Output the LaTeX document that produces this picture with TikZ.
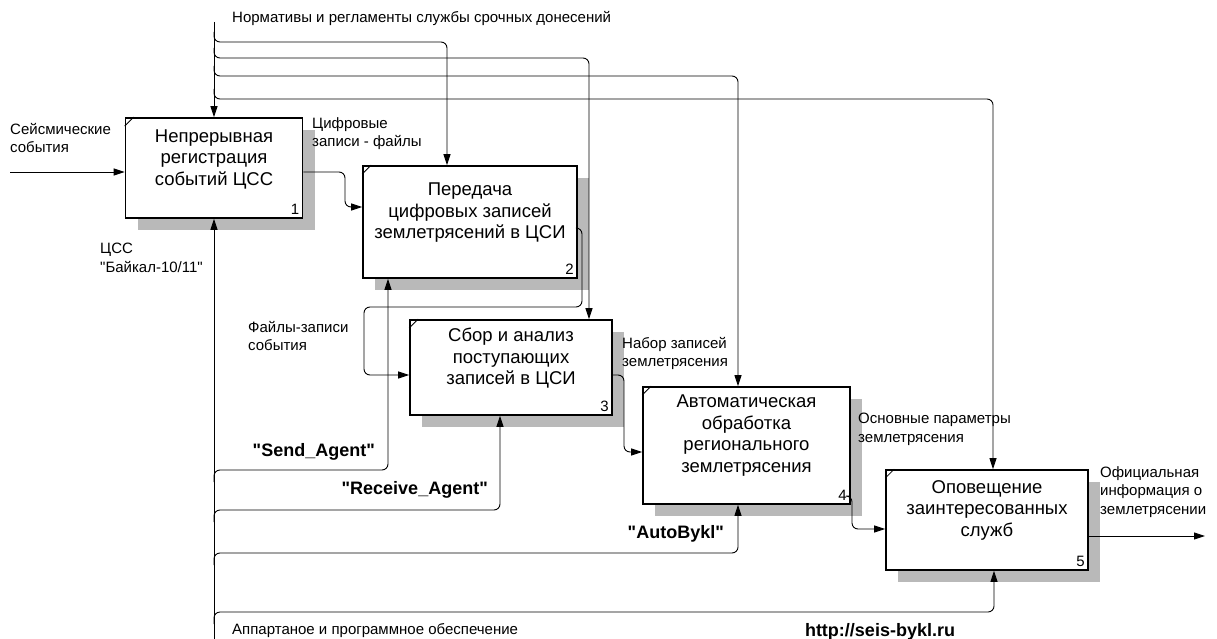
\documentclass[tikz,border=0pt]{standalone}
\usepackage{fontspec}
\setmainfont{Liberation Sans}[Ligatures=TeXOff]
\usetikzlibrary{arrows.meta,shadows}
\begin{document}
\begin{tikzpicture}[x=1pt,y=-1pt,
  act/.style={draw, line width=1.7pt, fill=white, inner sep=0pt,
    drop shadow={shadow xshift=12pt, shadow yshift=-12pt, fill=gray!55, opacity=1}},
  acttext/.style={font=\fontsize{18.5}{21.5}\selectfont, align=center, inner sep=0pt},
  actnum/.style={font=\fontsize{15}{17}\selectfont, inner sep=0pt, anchor=south east},
  flow/.style={line width=0.9pt, rounded corners=6pt, -{Triangle[length=11pt,width=7pt]}},
  lbl/.style={font=\fontsize{15}{18.5}\selectfont, align=left, inner sep=0pt, anchor=north west},
  blbl/.style={font=\bfseries\fontsize{18}{21}\selectfont, inner sep=0pt},
]
\useasboundingbox (0,0) rectangle (1217,639);

% activity boxes
\node[act, minimum width=177pt, minimum height=100pt] (b1) at (214,168) {};
\node[act, minimum width=214pt, minimum height=112pt] (b2) at (470,222) {};
\node[act, minimum width=202pt, minimum height=95pt] (b3) at (511,367.5) {};
\node[act, minimum width=207pt, minimum height=117pt] (b4) at (746.5,445.5) {};
\node[act, minimum width=202pt, minimum height=100pt] (b5) at (987,520) {};

\foreach \b/\n in {b1/1,b2/2,b3/3,b4/4,b5/5}{
  \draw[line width=0.8pt] ([yshift=-9pt]\b.north west) -- ([xshift=9pt]\b.north west);
  \node[actnum] (\b n) at ([xshift=-4pt,yshift=4pt]\b.south east) {\n};
}

\node[acttext] (t1) at ([yshift=9pt]b1.center) {Непрерывная\\регистрация\\событий ЦСС};
\node[acttext] (t2) at ([yshift=9pt]b2.center) {Передача\\цифровых записей\\землетрясений в ЦСИ};
\node[acttext] (t3) at ([yshift=9pt]b3.center) {Сбор и анализ\\поступающих\\записей в ЦСИ};
\node[acttext] (t4) at ([yshift=10pt]b4.center) {Автоматическая\\обработка\\регионального\\землетрясения};
\node[acttext] (t5) at ([yshift=10pt]b5.center) {Оповещение\\заинтересованных\\служб};

% controls from the top
\coordinate (ctl) at (214,22);
\draw[flow] (ctl) -- (b1.north);
\draw[flow] (214,32) |- (447,42) -- ([xshift=-23pt]b2.north);
\draw[flow] (214,48) |- (589,58) -- ([xshift=78pt]b3.north);
\draw[flow] (214,66) |- (738,76) -- ([xshift=-8.5pt]b4.north);
\draw[flow] (214,89) |- (993,99) -- ([xshift=6pt]b5.north);

% mechanisms from the bottom
\coordinate (mech) at (214,639);
\draw[flow] (mech) -- (b1.south);
\draw[flow] (214,482) |- (388,470) -- ([xshift=-82pt]b2.south);
\draw[flow] (214,522) |- (500,510) -- ([xshift=-11pt]b3.south);
\draw[flow] (214,565) |- (738,553) -- ([xshift=-8.5pt]b4.south);
\draw[flow] (214,624) |- (994,612) -- ([xshift=7pt]b5.south);

% inputs and outputs
\coordinate (inp) at (10,172);
\coordinate (outp) at (1205,536);
\draw[flow] (inp) -- (b1.west |- inp);
\draw[flow] (b1.east |- 0,172) -- (345,172) -- (345,207) -- (b2.west |- 0,207);
\draw[flow] (b2.east |- 0,228) -- (582,228) -- (582,307) -- (364,307) -- (364,375) -- (b3.west |- 0,375);
\draw[flow] (b3.east |- 0,375) -- (624,375) -- (624,452) -- (b4.west |- 0,452);
\draw[flow] (b4.east |- 0,496) -- (852,496) -- (852,529) -- (b5.west |- 0,529);
\draw[flow] (b5.east |- outp) -- (outp);

% arrow labels
\node[lbl] (l1) at (232,11) {Нормативы и регламенты службы срочных донесений};
\node[lbl] (l2) at (10,123) {Сейсмические\\события};
\node[lbl] (l3) at (312,117) {Цифровые\\записи - файлы};
\node[lbl] (l4) at (100,243) {ЦСС\\"Байкал-10/11"};
\node[lbl] (l5) at (248,321) {Файлы-записи\\события};
\node[lbl] (l6) at (622,337) {Набор записей\\землетрясения};
\node[lbl] (l7) at (858,413) {Основные параметры\\землетрясения};
\node[lbl] (l8) at (1100,466) {Официальная\\информация о\\землетрясении};
\node[lbl] (l9) at (232,623) {Аппартаное и программное обеспечение};
\node[blbl, anchor=east] (s1) at (375,452) {"Send\_Agent"};
\node[blbl, anchor=east] (s2) at (488,490) {"Receive\_Agent"};
\node[blbl, anchor=east] (s3) at (724,534) {"AutoBykl"};
\node[blbl] (url) at (880,632) {http://seis-bykl.ru};
\end{tikzpicture}
\end{document}
